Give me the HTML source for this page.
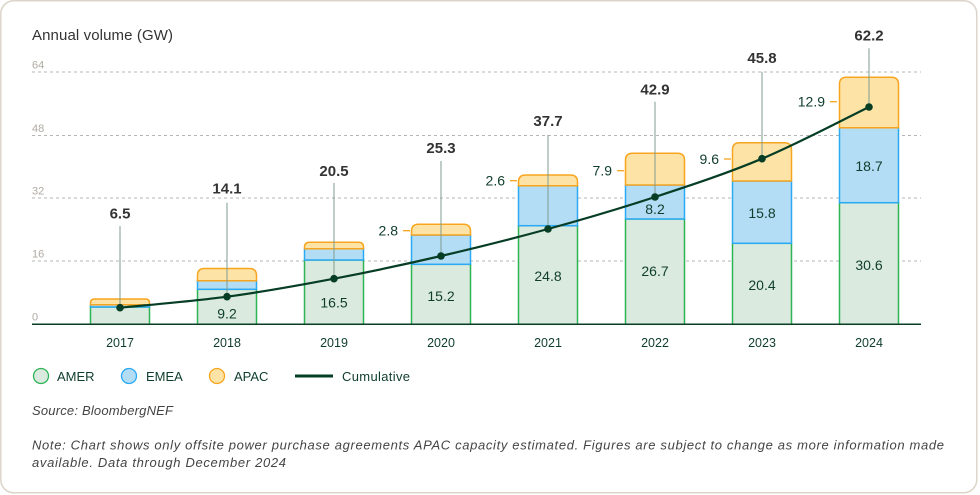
<!DOCTYPE html>
<html><head><meta charset="utf-8"><style>
html,body{margin:0;padding:0;background:#fff;}
svg{display:block;font-family:"Liberation Sans",sans-serif;}
</style></head><body>
<svg width="980" height="495" viewBox="0 0 980 495" xmlns="http://www.w3.org/2000/svg">
<rect x="0.75" y="0.75" width="976" height="492" rx="13" fill="#fff" stroke="#dcd4c8" stroke-width="1.5"/>
<text x="32" y="40" font-size="15" fill="#333" textLength="141">Annual volume (GW)</text>

<!-- grid -->
<g stroke="#b5b5b5" stroke-width="1" stroke-dasharray="3,3">
<line x1="32" y1="72" x2="921" y2="72"/>
<line x1="32" y1="135.5" x2="921" y2="135.5"/>
<line x1="32" y1="198" x2="921" y2="198"/>
<line x1="32" y1="261" x2="921" y2="261"/>
</g>
<g font-size="11" fill="#b0aaa3">
<text x="32" y="68.5">64</text>
<text x="32" y="132">48</text>
<text x="32" y="194.5">32</text>
<text x="32" y="257.5">16</text>
<text x="32" y="320.5">0</text>
</g>

<!-- bars -->
<g stroke-width="1.5">
<!-- 2017 c=120 -->
<rect x="90.5" y="307" width="59" height="17.3" fill="#dbeadf" stroke="#2db455"/>
<rect x="90.5" y="304.7" width="59" height="2.3" fill="#b3dcf5" stroke="#2aa9f5"/>
<path d="M90.5 304.7 V303 Q90.5 299 94.5 299 H145.5 Q149.5 299 149.5 303 V304.7 Z" fill="#fde3a5" stroke="#f7a51f"/>
<!-- 2018 c=227 -->
<rect x="197.5" y="289.3" width="59" height="35" fill="#dbeadf" stroke="#2db455"/>
<rect x="197.5" y="280.7" width="59" height="8.6" fill="#b3dcf5" stroke="#2aa9f5"/>
<path d="M197.5 280.7 V275.5 Q197.5 268.5 204.5 268.5 H249.5 Q256.5 268.5 256.5 275.5 V280.7 Z" fill="#fde3a5" stroke="#f7a51f"/>
<!-- 2019 c=334 -->
<rect x="304.5" y="260" width="59" height="64.3" fill="#dbeadf" stroke="#2db455"/>
<rect x="304.5" y="248.7" width="59" height="11.3" fill="#b3dcf5" stroke="#2aa9f5"/>
<path d="M304.5 248.7 V247.3 Q304.5 242.3 309.5 242.3 H358.5 Q363.5 242.3 363.5 247.3 V248.7 Z" fill="#fde3a5" stroke="#f7a51f"/>
<!-- 2020 c=441 -->
<rect x="411.5" y="264.3" width="59" height="60" fill="#dbeadf" stroke="#2db455"/>
<rect x="411.5" y="235" width="59" height="29.3" fill="#b3dcf5" stroke="#2aa9f5"/>
<path d="M411.5 235 V231.3 Q411.5 224.3 418.5 224.3 H463.5 Q470.5 224.3 470.5 231.3 V235 Z" fill="#fde3a5" stroke="#f7a51f"/>
<!-- 2021 c=548 -->
<rect x="518.5" y="225.7" width="59" height="98.6" fill="#dbeadf" stroke="#2db455"/>
<rect x="518.5" y="185.7" width="59" height="40" fill="#b3dcf5" stroke="#2aa9f5"/>
<path d="M518.5 185.7 V182 Q518.5 175 525.5 175 H570.5 Q577.5 175 577.5 182 V185.7 Z" fill="#fde3a5" stroke="#f7a51f"/>
<!-- 2022 c=655 -->
<rect x="625.5" y="219" width="59" height="105.3" fill="#dbeadf" stroke="#2db455"/>
<rect x="625.5" y="185" width="59" height="34" fill="#b3dcf5" stroke="#2aa9f5"/>
<path d="M625.5 185 V160.3 Q625.5 153.3 632.5 153.3 H677.5 Q684.5 153.3 684.5 160.3 V185 Z" fill="#fde3a5" stroke="#f7a51f"/>
<!-- 2023 c=762 -->
<rect x="732.5" y="243.3" width="59" height="81" fill="#dbeadf" stroke="#2db455"/>
<rect x="732.5" y="181" width="59" height="62.3" fill="#b3dcf5" stroke="#2aa9f5"/>
<path d="M732.5 181 V149.7 Q732.5 142.7 739.5 142.7 H784.5 Q791.5 142.7 791.5 149.7 V181 Z" fill="#fde3a5" stroke="#f7a51f"/>
<!-- 2024 c=869 -->
<rect x="839.5" y="202.7" width="59" height="121.6" fill="#dbeadf" stroke="#2db455"/>
<rect x="839.5" y="127.7" width="59" height="75" fill="#b3dcf5" stroke="#2aa9f5"/>
<path d="M839.5 127.7 V84.3 Q839.5 77.3 846.5 77.3 H891.5 Q898.5 77.3 898.5 84.3 V127.7 Z" fill="#fde3a5" stroke="#f7a51f"/>
</g>

<!-- baseline -->
<line x1="32" y1="324.3" x2="921" y2="324.3" stroke="#0b3d26" stroke-width="1.5"/>

<!-- APAC side labels -->
<g stroke="#f7a51f" stroke-width="1.3">
<line x1="403" y1="230.7" x2="410" y2="230.7"/>
<line x1="510" y1="180.7" x2="517" y2="180.7"/>
<line x1="617" y1="170.7" x2="624" y2="170.7"/>
<line x1="724" y1="159" x2="731" y2="159"/>
<line x1="830" y1="101.7" x2="837" y2="101.7"/>
</g>
<g font-size="14" fill="#0f3d2b" text-anchor="end">
<text x="398" y="235.7">2.8</text>
<text x="505" y="185.7">2.6</text>
<text x="612" y="175.7">7.9</text>
<text x="719" y="164">9.6</text>
<text x="825" y="106.7">12.9</text>
</g>

<!-- leader lines -->
<g stroke="#7d9c8f" stroke-width="1">
<line x1="120" y1="226" x2="120" y2="307.7"/>
<line x1="227" y1="202.7" x2="227" y2="296.7"/>
<line x1="334" y1="183" x2="334" y2="278.7"/>
<line x1="441" y1="161" x2="441" y2="256"/>
<line x1="548" y1="135" x2="548" y2="229"/>
<line x1="655" y1="101.7" x2="655" y2="197"/>
<line x1="762" y1="71.7" x2="762" y2="158.7"/>
<line x1="869" y1="48.3" x2="869" y2="107"/>
</g>

<!-- cumulative line -->
<path d="M120 307.7 C137.8 305.9 191.3 301.5 227 296.7 C262.7 291.9 298.3 285.5 334 278.7 C369.7 271.9 405.3 264.3 441 256 C476.7 247.7 512.3 238.8 548 229 C583.7 219.2 619.3 208.7 655 197 C690.7 185.3 726.3 173.7 762 158.7 C797.7 143.7 851.2 115.6 869 107" fill="none" stroke="#063d25" stroke-width="2.2"/>
<g fill="#063d25">
<circle cx="120" cy="307.7" r="3.8"/>
<circle cx="227" cy="296.7" r="3.8"/>
<circle cx="334" cy="278.7" r="3.8"/>
<circle cx="441" cy="256" r="3.8"/>
<circle cx="548" cy="229" r="3.8"/>
<circle cx="655" cy="197" r="3.8"/>
<circle cx="762" cy="158.7" r="3.8"/>
<circle cx="869" cy="107" r="3.8"/>
</g>

<!-- inner labels -->
<g font-size="14" fill="#0f3d2b" text-anchor="middle">
<text x="227" y="318.5">9.2</text>
<text x="334" y="307.5">16.5</text>
<text x="441" y="301">15.2</text>
<text x="548" y="281.2">24.8</text>
<text x="655" y="276.2">26.7</text>
<text x="762" y="290.2">20.4</text>
<text x="869" y="270.2">30.6</text>
<text x="655" y="214.2">8.2</text>
<text x="762" y="217.9">15.8</text>
<text x="869" y="170.9">18.7</text>
</g>

<!-- totals -->
<g font-size="15" font-weight="bold" fill="#333" text-anchor="middle">
<text x="120" y="218.5">6.5</text>
<text x="227" y="193.5">14.1</text>
<text x="334" y="176.2">20.5</text>
<text x="441" y="153.2">25.3</text>
<text x="548" y="126.2">37.7</text>
<text x="655" y="94.5">42.9</text>
<text x="762" y="63.2">45.8</text>
<text x="869" y="40.5">62.2</text>
</g>

<!-- years -->
<g font-size="12.5" fill="#0f3d2b" text-anchor="middle">
<text x="120" y="347">2017</text>
<text x="227" y="347">2018</text>
<text x="334" y="347">2019</text>
<text x="441" y="347">2020</text>
<text x="548" y="347">2021</text>
<text x="655" y="347">2022</text>
<text x="762" y="347">2023</text>
<text x="869" y="347">2024</text>
</g>

<!-- legend -->
<circle cx="41" cy="376" r="7.5" fill="#dbeadf" stroke="#2db455" stroke-width="1.3"/>
<circle cx="129" cy="376" r="7.5" fill="#b3dcf5" stroke="#2aa9f5" stroke-width="1.3"/>
<circle cx="217" cy="376" r="7.5" fill="#fde3a5" stroke="#f7a51f" stroke-width="1.3"/>
<line x1="295" y1="376" x2="333" y2="376" stroke="#063d25" stroke-width="3"/>
<g font-size="13" fill="#0f3d2b">
<text x="57" y="381">AMER</text>
<text x="146" y="381">EMEA</text>
<text x="234" y="381">APAC</text>
<text x="342" y="381" textLength="68">Cumulative</text>
</g>

<!-- notes -->
<g font-size="13" font-style="italic" fill="#444">
<text x="32" y="415" textLength="141">Source: BloombergNEF</text>
<text x="32" y="449.5" textLength="912">Note: Chart shows only offsite power purchase agreements APAC capacity estimated. Figures are subject to change as more information made</text>
<text x="32" y="467" textLength="254">available. Data through December 2024</text>
</g>
</svg>
</body></html>
